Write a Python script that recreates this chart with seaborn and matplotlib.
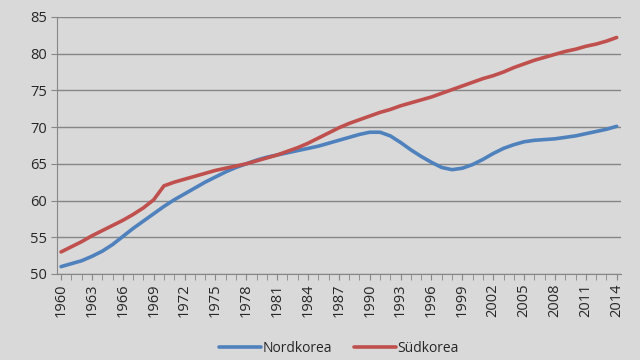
import numpy as np
import pandas as pd
import seaborn as sns
import matplotlib.pyplot as plt
from matplotlib.ticker import MultipleLocator

# Lebenserwartung 1960-2014
jahre = list(range(1960, 2015))
nordkorea = [51.0, 51.4, 51.8, 52.4, 53.1, 54.0, 55.1, 56.2, 57.2, 58.2,
             59.2, 60.1, 60.9, 61.7, 62.5, 63.2, 63.9, 64.5, 65.0, 65.5,
             65.9, 66.2, 66.5, 66.8, 67.1, 67.4, 67.8, 68.2, 68.6, 69.0,
             69.3, 69.3, 68.8, 67.9, 66.9, 66.0, 65.2, 64.5, 64.2, 64.4,
             64.9, 65.6, 66.4, 67.1, 67.6, 68.0, 68.2, 68.3, 68.4, 68.6,
             68.8, 69.1, 69.4, 69.7, 70.1]
suedkorea = [53.0, 53.7, 54.4, 55.2, 55.9, 56.6, 57.3, 58.1, 59.0, 60.1,
             62.0, 62.5, 62.9, 63.3, 63.7, 64.1, 64.4, 64.7, 65.0, 65.4,
             65.8, 66.2, 66.7, 67.2, 67.8, 68.5, 69.2, 69.9, 70.5, 71.0,
             71.5, 72.0, 72.4, 72.9, 73.3, 73.7, 74.1, 74.6, 75.1, 75.6,
             76.1, 76.6, 77.0, 77.5, 78.1, 78.6, 79.1, 79.5, 79.9, 80.3,
             80.6, 81.0, 81.3, 81.7, 82.2]

df = pd.DataFrame({"Jahr": jahre * 2,
                   "Wert": nordkorea + suedkorea,
                   "Land": ["Nordkorea"] * len(jahre) + ["Südkorea"] * len(jahre)})

bg = "#d9d9d9"
sns.set_style("ticks")
plt.rcParams["font.family"] = ["Open Sans", "DejaVu Sans"]

fig = plt.figure(figsize=(6.4, 3.6), dpi=100, facecolor=bg)
ax = fig.add_axes([0.089, 0.239, 0.881, 0.714])
ax.set_facecolor(bg)

sns.lineplot(data=df, x="Jahr", y="Wert", hue="Land", ax=ax,
             palette=["#4f81bd", "#c0504d"], linewidth=2.6)

ax.set_xlim(1959.6, 2014.4)
ax.set_ylim(50, 85)
ax.yaxis.set_major_locator(MultipleLocator(5))
ax.set_xticks(jahre[::3])
ax.set_xticks(jahre, minor=True)
ax.tick_params(axis="x", which="both", rotation=90, length=4, color="#868686",
               labelsize=10.5, pad=3)
ax.tick_params(axis="y", length=4, color="#868686", labelsize=10.5, pad=3)
ax.grid(axis="y", color="#868686", linewidth=1)
ax.set_axisbelow(True)
for s in ["top", "right"]:
    ax.spines[s].set_visible(False)
for s in ["left", "bottom"]:
    ax.spines[s].set_color("#868686")
ax.set_xlabel("")
ax.set_ylabel("")

ax.legend(loc="center", bbox_to_anchor=(0.5, -0.29), ncol=2, frameon=False,
          fontsize=10, handlelength=3.0, handletextpad=0.1, columnspacing=1.6)

plt.savefig("out.png", dpi=100, facecolor=bg)
